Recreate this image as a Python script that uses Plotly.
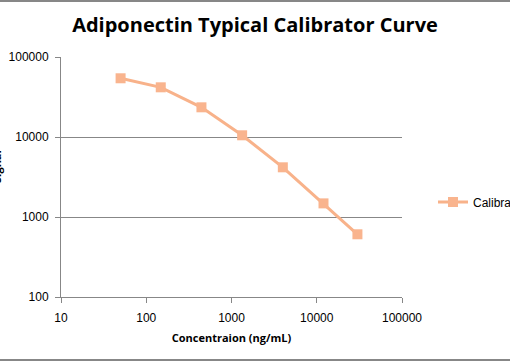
import plotly.graph_objects as go

concentration = [50, 148, 444, 1333, 4000, 12000, 30000]
signal = [54200, 41800, 23500, 10500, 4180, 1480, 608]
series_name = "Calibrator"
x_ticks = [10, 100, 1000, 10000, 100000]
y_ticks = [100, 1000, 10000, 100000]

L, R, T, B = 61, 108, 57, 65
W, H = 510, 362
pw, ph = W - L - R, H - T - B

fig = go.Figure()
fig.add_trace(go.Scatter(
    x=concentration, y=signal, name=series_name, mode="lines+markers",
    line=dict(color="#F8B28A", width=3),
    marker=dict(symbol="square", size=10, color="#F9B48E"),
))

axis_font = dict(family="Liberation Sans, Arial, sans-serif", size=12, color="#000000")
fig.update_layout(
    width=W, height=H,
    margin=dict(l=L, r=R, t=T, b=B, autoexpand=False),
    paper_bgcolor="white", plot_bgcolor="white",
    title=dict(text="<b>Adiponectin Typical Calibrator Curve</b>", x=0.5, xanchor="center",
               xref="container", y=1 - 25 / H, yanchor="middle",
               font=dict(family="Open Sans, sans-serif", size=20, color="#000000")),
    xaxis=dict(type="log", range=[1, 5], tickvals=x_ticks, ticktext=[str(v) for v in x_ticks],
               showgrid=False, showline=True, linecolor="#878787", linewidth=1,
               ticks="outside", ticklen=5, tickcolor="#878787", tickfont=axis_font,
               ticklabelstandoff=5,
               zeroline=False, automargin=False,
               title=dict(text="<b>Concentraion (ng/mL)</b>", standoff=9,
                          font=dict(family="Open Sans, sans-serif", size=11, color="#000000"))),
    yaxis=dict(type="log", range=[2, 5], tickvals=y_ticks, ticktext=[str(v) for v in y_ticks],
               showgrid=True, gridcolor="#878787", gridwidth=1,
               showline=True, linecolor="#878787", linewidth=1,
               ticks="outside", ticklen=5, tickcolor="#878787", tickfont=axis_font,
               ticklabelstandoff=4,
               zeroline=False, automargin=False),
    legend=dict(x=1 + (433 - (W - R)) / pw, y=(H - B - 202) / ph, xanchor="left", yanchor="middle",
                font=dict(family="Liberation Sans, Arial, sans-serif", size=12, color="#000000"),
                bgcolor="rgba(0,0,0,0)", itemwidth=30),
    showlegend=True,
)

fig.add_annotation(text="<b>Signal</b>", xref="paper", yref="paper",
                   x=-(L + 4) / pw, y=(H - B - 167) / ph, textangle=-90,
                   showarrow=False, xanchor="center", yanchor="middle",
                   font=dict(family="Open Sans, sans-serif", size=11, color="#000000"))

# chart-area border lines (top and bottom) drawn as rectangles in paper space
x0, x1 = -L / pw, 1 + R / pw
fig.add_shape(type="rect", xref="paper", yref="paper", x0=x0, x1=x1,
              y0=1 + (T - 2) / ph, y1=1 + T / ph,
              fillcolor="#878787", line=dict(width=0), layer="above")
fig.add_shape(type="rect", xref="paper", yref="paper", x0=x0, x1=x1,
              y0=-(361 - (H - B)) / ph, y1=-(359 - (H - B)) / ph,
              fillcolor="#878787", line=dict(width=0), layer="above")

fig.write_html("out.html", config={"displayModeBar": False},
               post_script="document.body.style.margin='0';document.body.style.overflow='hidden';")
